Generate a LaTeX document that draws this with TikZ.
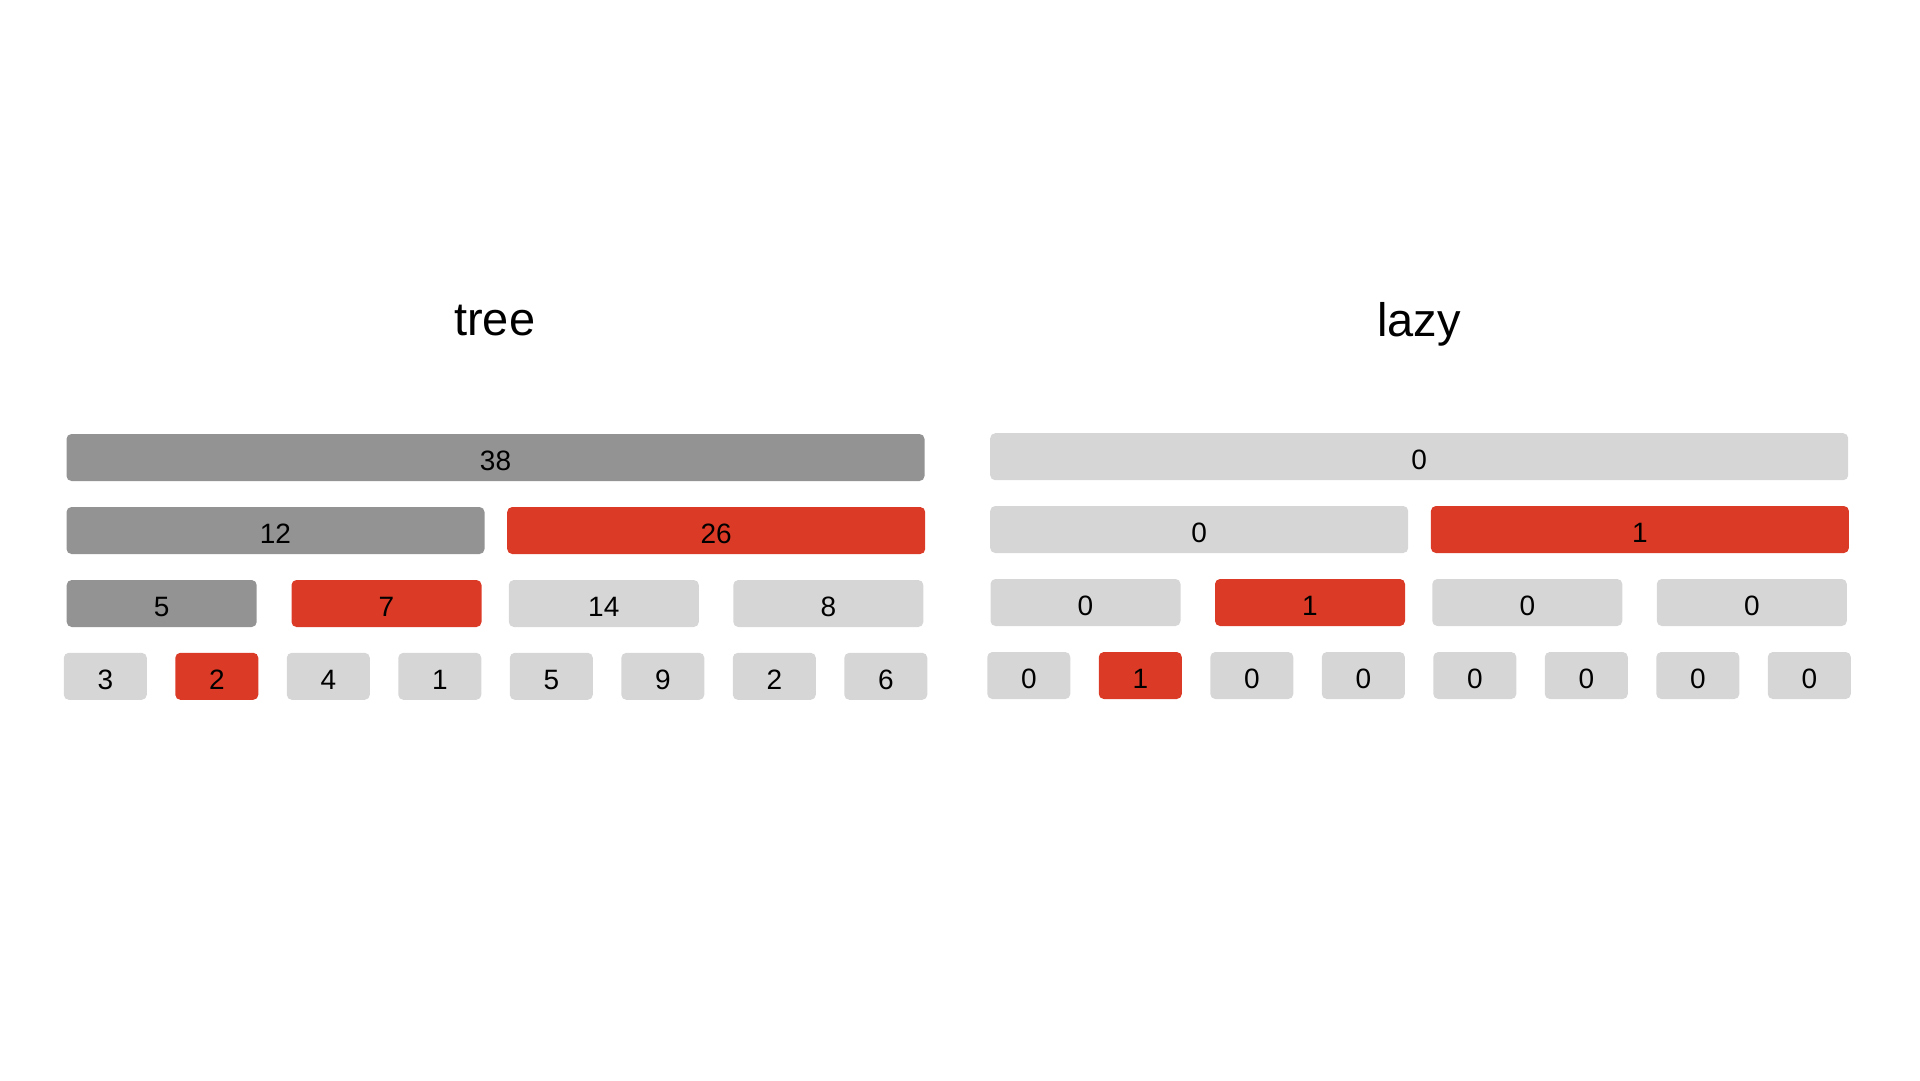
\documentclass[tikz,border=0pt]{standalone}
\usepackage{fontspec}
\setmainfont{Liberation Sans}
\usepackage{color}

\definecolor{cellgray}{HTML}{D6D6D6}
\definecolor{sumgray}{HTML}{939393}
\definecolor{markred}{HTML}{DB3B26}

\begin{document}
\begin{tikzpicture}[x=1pt,y=-1pt,
  cell/.style={rounded corners=5pt, minimum height=47pt, inner sep=0pt,
    text height=26pt, text depth=0pt, font=\fontsize{28}{28}\selectfont},
  rootcell/.style={cell, minimum width=858pt},
  halfcell/.style={cell, minimum width=418pt},
  quartcell/.style={cell, minimum width=190pt},
  leafcell/.style={cell, minimum width=83pt},
  title/.style={anchor=base, font=\fontsize{47}{47}\selectfont}]
\useasboundingbox (0,0) rectangle (1920,1080);

% left: sums
\node[title] (treetitle) at (494.7,335) {tree};
\node[rootcell, fill=sumgray] (t1) at (495.5,457.5) {38};
\node[halfcell, fill=sumgray] (t2) at (275.5,530.5) {12};
\node[halfcell, fill=markred] (t3) at (716.2,530.5) {26};
\node[quartcell, fill=sumgray] (t4) at (161.7,603.5) {5};
\node[quartcell, fill=markred] (t5) at (386.5,603.5) {7};
\node[quartcell, fill=cellgray] (t6) at (603.8,603.5) {14};
\node[quartcell, fill=cellgray] (t7) at (828.3,603.5) {8};
\foreach \v/\c [count=\i] in {3/cellgray,2/markred,4/cellgray,1/cellgray,5/cellgray,9/cellgray,2/cellgray,6/cellgray}
  \node[leafcell, fill=\c] (tleaf\i) at ({105.3+111.5*(\i-1)},676.3) {\v};

% right: lazy tags
\node[title] (lazytitle) at (1419,336) {lazy};
\node[rootcell, fill=cellgray] (z1) at (1419.2,456.7) {0};
\node[halfcell, fill=cellgray] (z2) at (1199.2,529.5) {0};
\node[halfcell, fill=markred] (z3) at (1639.9,529.5) {1};
\node[quartcell, fill=cellgray] (z4) at (1085.5,602.5) {0};
\node[quartcell, fill=markred] (z5) at (1310,602.5) {1};
\node[quartcell, fill=cellgray] (z6) at (1527.3,602.5) {0};
\node[quartcell, fill=cellgray] (z7) at (1751.8,602.5) {0};
\foreach \v/\c [count=\i] in {0/cellgray,1/markred,0/cellgray,0/cellgray,0/cellgray,0/cellgray,0/cellgray,0/cellgray}
  \node[leafcell, fill=\c] (zleaf\i) at ({1028.8+111.5*(\i-1)},675.5) {\v};

\end{tikzpicture}
\end{document}
